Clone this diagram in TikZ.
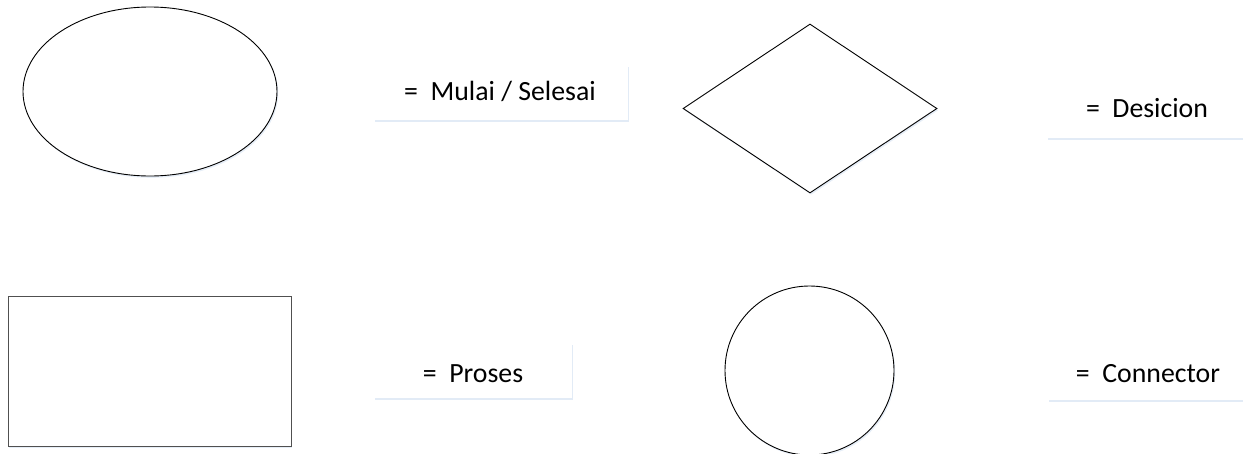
\documentclass[tikz,border=0pt]{standalone}
\usepackage{fontspec}
\setmainfont{Carlito}
\usetikzlibrary{shapes.geometric,shadows}
\definecolor{shade}{RGB}{214,226,242}
\definecolor{rectline}{RGB}{80,80,80}
\tikzset{
  shapeline/.style={draw=black, line width=0.9pt, fill=white, inner sep=0pt,
    drop shadow={shadow xshift=1.2pt, shadow yshift=-1.8pt, fill=shade, opacity=0.6}},
  labelbox/.style={fill=white, draw=none, inner sep=0pt,
    drop shadow={shadow xshift=1.2pt, shadow yshift=-2pt, fill=shade, opacity=0.7}},
  labeltext/.style={anchor=base, inner sep=0pt, font=\fontsize{27.8}{32}\selectfont}
}
\begin{document}
\begin{tikzpicture}[x=1pt,y=-1pt]
\useasboundingbox (0,0) rectangle (1243,453);
% shapes
\node[shapeline, ellipse, minimum width=254pt, minimum height=169pt] (term) at (150,91.5) {};
\node[shapeline, diamond, minimum width=254pt, minimum height=169pt] (dec) at (810,108.5) {};
\node[shapeline, draw=rectline, rectangle, minimum width=283pt, minimum height=150pt] (proc) at (149.5,371) {};
\node[shapeline, circle, minimum size=169pt] (conn) at (809.5,370.5) {};
% label boxes
\node[labelbox, minimum width=254pt, minimum height=55pt] (b1) at (501,92.5) {};
\node[labelbox, minimum width=200pt, minimum height=63pt] (b2) at (1147,106.5) {};
\node[labelbox, minimum width=198pt, minimum height=55pt] (b3) at (473,370.5) {};
\node[labelbox, minimum width=200pt, minimum height=55pt] (b4) at (1148,372.5) {};
% texts
\node[labeltext] (t1) at (500,100) {=\ \ Mulai / Selesai};
\node[labeltext] (t2) at (1147,117) {=\ \ Desicion};
\node[labeltext] (t3) at (473,382) {=\ \ Proses};
\node[labeltext] (t4) at (1148,382) {=\ \ Connector};
\end{tikzpicture}
\end{document}
